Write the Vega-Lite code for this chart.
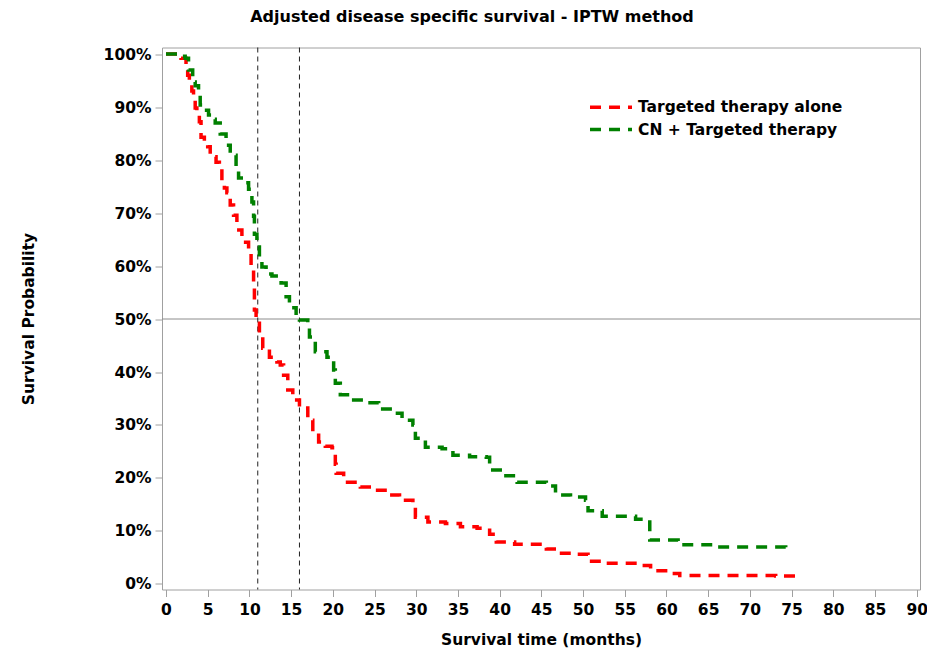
{
  "$schema": "https://vega.github.io/schema/vega-lite/v6.json",
  "width": 758,
  "height": 542,
  "autosize": {"type": "none"},
  "padding": {"left": 162, "top": 47.5, "right": 7, "bottom": 70.5},
  "background": "white",
  "title": {"text": "Adjusted disease specific survival - IPTW method", "font": "DejaVu Sans", "fontSize": 16, "fontWeight": "bold", "color": "black", "anchor": "middle", "dx": -69, "offset": 22},
  "config": {
    "view": {"stroke": "#a0a0a0", "strokeWidth": 1},
    "axis": {"grid": false, "domain": false, "tickSize": 7, "tickColor": "#a0a0a0", "labelFont": "DejaVu Sans", "labelFontSize": 15.5, "labelFontWeight": "bold", "labelColor": "black", "titleFont": "DejaVu Sans", "titleFontSize": 15.5, "titleFontWeight": "bold", "titleColor": "black", "labelOverlap": false, "labelFlush": false}
  },
  "datasets": {
    "curves": [
      {"group": "Targeted therapy alone", "t": 0, "s": 1.0},
      {"group": "Targeted therapy alone", "t": 1.8, "s": 0.992},
      {"group": "Targeted therapy alone", "t": 2.4, "s": 0.974},
      {"group": "Targeted therapy alone", "t": 2.6, "s": 0.96},
      {"group": "Targeted therapy alone", "t": 2.8, "s": 0.947},
      {"group": "Targeted therapy alone", "t": 3.1, "s": 0.93},
      {"group": "Targeted therapy alone", "t": 3.3, "s": 0.919},
      {"group": "Targeted therapy alone", "t": 3.5, "s": 0.898},
      {"group": "Targeted therapy alone", "t": 3.7, "s": 0.885},
      {"group": "Targeted therapy alone", "t": 4.0, "s": 0.872},
      {"group": "Targeted therapy alone", "t": 4.2, "s": 0.843},
      {"group": "Targeted therapy alone", "t": 4.6, "s": 0.834},
      {"group": "Targeted therapy alone", "t": 5.0, "s": 0.825},
      {"group": "Targeted therapy alone", "t": 5.3, "s": 0.815},
      {"group": "Targeted therapy alone", "t": 5.7, "s": 0.806},
      {"group": "Targeted therapy alone", "t": 6.0, "s": 0.796},
      {"group": "Targeted therapy alone", "t": 6.4, "s": 0.785},
      {"group": "Targeted therapy alone", "t": 6.7, "s": 0.758},
      {"group": "Targeted therapy alone", "t": 7.0, "s": 0.747},
      {"group": "Targeted therapy alone", "t": 7.3, "s": 0.738},
      {"group": "Targeted therapy alone", "t": 7.7, "s": 0.715},
      {"group": "Targeted therapy alone", "t": 8.1, "s": 0.696},
      {"group": "Targeted therapy alone", "t": 8.5, "s": 0.668},
      {"group": "Targeted therapy alone", "t": 9.1, "s": 0.645},
      {"group": "Targeted therapy alone", "t": 9.9, "s": 0.625},
      {"group": "Targeted therapy alone", "t": 10.2, "s": 0.6},
      {"group": "Targeted therapy alone", "t": 10.5, "s": 0.564},
      {"group": "Targeted therapy alone", "t": 10.6, "s": 0.517},
      {"group": "Targeted therapy alone", "t": 10.8, "s": 0.492},
      {"group": "Targeted therapy alone", "t": 11.2, "s": 0.47},
      {"group": "Targeted therapy alone", "t": 11.6, "s": 0.445},
      {"group": "Targeted therapy alone", "t": 12.4, "s": 0.428},
      {"group": "Targeted therapy alone", "t": 13.3, "s": 0.419},
      {"group": "Targeted therapy alone", "t": 13.7, "s": 0.413},
      {"group": "Targeted therapy alone", "t": 14.1, "s": 0.394},
      {"group": "Targeted therapy alone", "t": 14.6, "s": 0.366},
      {"group": "Targeted therapy alone", "t": 15.2, "s": 0.347},
      {"group": "Targeted therapy alone", "t": 16.0, "s": 0.332},
      {"group": "Targeted therapy alone", "t": 17.0, "s": 0.309},
      {"group": "Targeted therapy alone", "t": 17.6, "s": 0.287},
      {"group": "Targeted therapy alone", "t": 18.3, "s": 0.268},
      {"group": "Targeted therapy alone", "t": 19.1, "s": 0.26},
      {"group": "Targeted therapy alone", "t": 19.9, "s": 0.257},
      {"group": "Targeted therapy alone", "t": 20.3, "s": 0.226},
      {"group": "Targeted therapy alone", "t": 20.4, "s": 0.209},
      {"group": "Targeted therapy alone", "t": 21.3, "s": 0.192},
      {"group": "Targeted therapy alone", "t": 23.3, "s": 0.183},
      {"group": "Targeted therapy alone", "t": 24.9, "s": 0.177},
      {"group": "Targeted therapy alone", "t": 26.6, "s": 0.168},
      {"group": "Targeted therapy alone", "t": 28.0, "s": 0.158},
      {"group": "Targeted therapy alone", "t": 29.6, "s": 0.149},
      {"group": "Targeted therapy alone", "t": 29.9, "s": 0.126},
      {"group": "Targeted therapy alone", "t": 31.4, "s": 0.117},
      {"group": "Targeted therapy alone", "t": 33.5, "s": 0.114},
      {"group": "Targeted therapy alone", "t": 35.3, "s": 0.108},
      {"group": "Targeted therapy alone", "t": 37.3, "s": 0.105},
      {"group": "Targeted therapy alone", "t": 38.8, "s": 0.094},
      {"group": "Targeted therapy alone", "t": 39.6, "s": 0.079},
      {"group": "Targeted therapy alone", "t": 41.8, "s": 0.075},
      {"group": "Targeted therapy alone", "t": 45.6, "s": 0.066},
      {"group": "Targeted therapy alone", "t": 47.1, "s": 0.058},
      {"group": "Targeted therapy alone", "t": 49.3, "s": 0.056},
      {"group": "Targeted therapy alone", "t": 50.6, "s": 0.043},
      {"group": "Targeted therapy alone", "t": 52.3, "s": 0.039},
      {"group": "Targeted therapy alone", "t": 56.6, "s": 0.035},
      {"group": "Targeted therapy alone", "t": 58.1, "s": 0.025},
      {"group": "Targeted therapy alone", "t": 59.9, "s": 0.02},
      {"group": "Targeted therapy alone", "t": 61.6, "s": 0.016},
      {"group": "Targeted therapy alone", "t": 73.1, "s": 0.015},
      {"group": "Targeted therapy alone", "t": 75.5, "s": 0.015},
      {"group": "CN + Targeted therapy", "t": 0, "s": 1.0},
      {"group": "CN + Targeted therapy", "t": 1.9, "s": 0.996},
      {"group": "CN + Targeted therapy", "t": 2.3, "s": 0.992},
      {"group": "CN + Targeted therapy", "t": 2.7, "s": 0.97},
      {"group": "CN + Targeted therapy", "t": 3.2, "s": 0.947},
      {"group": "CN + Targeted therapy", "t": 3.5, "s": 0.94},
      {"group": "CN + Targeted therapy", "t": 3.9, "s": 0.928},
      {"group": "CN + Targeted therapy", "t": 4.1, "s": 0.904},
      {"group": "CN + Targeted therapy", "t": 4.6, "s": 0.894},
      {"group": "CN + Targeted therapy", "t": 5.1, "s": 0.885},
      {"group": "CN + Targeted therapy", "t": 5.5, "s": 0.877},
      {"group": "CN + Targeted therapy", "t": 5.9, "s": 0.87},
      {"group": "CN + Targeted therapy", "t": 6.5, "s": 0.849},
      {"group": "CN + Targeted therapy", "t": 7.2, "s": 0.828},
      {"group": "CN + Targeted therapy", "t": 7.7, "s": 0.809},
      {"group": "CN + Targeted therapy", "t": 8.4, "s": 0.787},
      {"group": "CN + Targeted therapy", "t": 8.7, "s": 0.766},
      {"group": "CN + Targeted therapy", "t": 9.4, "s": 0.757},
      {"group": "CN + Targeted therapy", "t": 9.9, "s": 0.745},
      {"group": "CN + Targeted therapy", "t": 10.3, "s": 0.721},
      {"group": "CN + Targeted therapy", "t": 10.5, "s": 0.694},
      {"group": "CN + Targeted therapy", "t": 10.6, "s": 0.66},
      {"group": "CN + Targeted therapy", "t": 10.9, "s": 0.636},
      {"group": "CN + Targeted therapy", "t": 11.2, "s": 0.617},
      {"group": "CN + Targeted therapy", "t": 11.5, "s": 0.598},
      {"group": "CN + Targeted therapy", "t": 12.0, "s": 0.585},
      {"group": "CN + Targeted therapy", "t": 12.7, "s": 0.581},
      {"group": "CN + Targeted therapy", "t": 13.8, "s": 0.568},
      {"group": "CN + Targeted therapy", "t": 14.4, "s": 0.542},
      {"group": "CN + Targeted therapy", "t": 14.8, "s": 0.521},
      {"group": "CN + Targeted therapy", "t": 15.6, "s": 0.502},
      {"group": "CN + Targeted therapy", "t": 16.0, "s": 0.498},
      {"group": "CN + Targeted therapy", "t": 17.0, "s": 0.485},
      {"group": "CN + Targeted therapy", "t": 17.2, "s": 0.466},
      {"group": "CN + Targeted therapy", "t": 17.9, "s": 0.438},
      {"group": "CN + Targeted therapy", "t": 19.3, "s": 0.428},
      {"group": "CN + Targeted therapy", "t": 20.1, "s": 0.404},
      {"group": "CN + Targeted therapy", "t": 20.3, "s": 0.379},
      {"group": "CN + Targeted therapy", "t": 20.9, "s": 0.357},
      {"group": "CN + Targeted therapy", "t": 22.5, "s": 0.347},
      {"group": "CN + Targeted therapy", "t": 23.9, "s": 0.342},
      {"group": "CN + Targeted therapy", "t": 25.5, "s": 0.33},
      {"group": "CN + Targeted therapy", "t": 27.3, "s": 0.322},
      {"group": "CN + Targeted therapy", "t": 28.3, "s": 0.309},
      {"group": "CN + Targeted therapy", "t": 29.6, "s": 0.3},
      {"group": "CN + Targeted therapy", "t": 29.9, "s": 0.275},
      {"group": "CN + Targeted therapy", "t": 31.1, "s": 0.258},
      {"group": "CN + Targeted therapy", "t": 33.1, "s": 0.255},
      {"group": "CN + Targeted therapy", "t": 34.4, "s": 0.243},
      {"group": "CN + Targeted therapy", "t": 36.4, "s": 0.24},
      {"group": "CN + Targeted therapy", "t": 38.4, "s": 0.239},
      {"group": "CN + Targeted therapy", "t": 38.8, "s": 0.215},
      {"group": "CN + Targeted therapy", "t": 40.4, "s": 0.204},
      {"group": "CN + Targeted therapy", "t": 42.1, "s": 0.192},
      {"group": "CN + Targeted therapy", "t": 45.6, "s": 0.185},
      {"group": "CN + Targeted therapy", "t": 46.7, "s": 0.168},
      {"group": "CN + Targeted therapy", "t": 48.5, "s": 0.164},
      {"group": "CN + Targeted therapy", "t": 50.3, "s": 0.158},
      {"group": "CN + Targeted therapy", "t": 50.6, "s": 0.138},
      {"group": "CN + Targeted therapy", "t": 52.3, "s": 0.128},
      {"group": "CN + Targeted therapy", "t": 56.3, "s": 0.122},
      {"group": "CN + Targeted therapy", "t": 58.0, "s": 0.083},
      {"group": "CN + Targeted therapy", "t": 61.4, "s": 0.074},
      {"group": "CN + Targeted therapy", "t": 65.6, "s": 0.07},
      {"group": "CN + Targeted therapy", "t": 74.3, "s": 0.067},
      {"group": "CN + Targeted therapy", "t": 74.9, "s": 0.067}
    ],
    "vref": [{"t": 11}, {"t": 16}],
    "href": [{"s": 0.5}]
  },
  "layer": [
    {
      "data": {"name": "href"},
      "mark": {"type": "rule", "color": "#8c8c8c", "strokeWidth": 1},
      "encoding": {"y": {"field": "s", "type": "quantitative"}}
    },
    {
      "data": {"name": "vref"},
      "mark": {"type": "rule", "color": "#202020", "strokeWidth": 1, "strokeDash": [5, 4]},
      "encoding": {"x": {"field": "t", "type": "quantitative"}}
    },
    {
      "data": {"name": "curves"},
      "mark": {"type": "line", "interpolate": "step-after", "strokeWidth": 3.5, "strokeDash": [11, 8]},
      "encoding": {
        "x": {
          "field": "t", "type": "quantitative",
          "scale": {"domain": [-0.48, 90.4], "nice": false, "zero": false},
          "axis": {
            "title": "Survival time (months)",
            "values": [0, 2.5, 5, 7.5, 10, 12.5, 15, 17.5, 20, 22.5, 25, 27.5, 30, 32.5, 35, 37.5, 40, 42.5, 45, 47.5, 50, 52.5, 55, 57.5, 60, 62.5, 65, 67.5, 70, 72.5, 75, 77.5, 80, 82.5, 85, 87.5, 90],
            "labelExpr": "datum.value % 5 == 0 ? format(datum.value, 'd') : ''",
            "labelPadding": 6,
            "titlePadding": 14
          }
        },
        "y": {
          "field": "s", "type": "quantitative",
          "scale": {"domain": [-0.0104, 1.0123], "nice": false, "zero": false},
          "axis": {
            "title": "Survival Probability",
            "values": [0, 0.05, 0.1, 0.15, 0.2, 0.25, 0.3, 0.35, 0.4, 0.45, 0.5, 0.55, 0.6, 0.65, 0.7, 0.75, 0.8, 0.85, 0.9, 0.95, 1],
            "labelExpr": "round(datum.value * 100) % 10 == 0 ? format(datum.value, '.0%') : ''",
            "labelPadding": 4,
            "titlePadding": 67
          }
        },
        "color": {
          "field": "group", "type": "nominal",
          "scale": {"domain": ["Targeted therapy alone", "CN + Targeted therapy"], "range": ["#ff0000", "#008000"]},
          "legend": {
            "title": null,
            "orient": "none",
            "legendX": 438,
            "legendY": 48.7,
            "padding": 0,
            "rowPadding": 2.4,
            "symbolType": "M-2.333,0H2.333",
            "symbolSize": 324,
            "symbolStrokeWidth": 3.5,
            "symbolDash": [11, 8],
            "symbolFillColor": "transparent",
            "labelFont": "DejaVu Sans",
            "labelFontSize": 15.5,
            "labelFontWeight": "bold",
            "labelColor": "black",
            "labelOffset": 16,
            "labelLimit": 400
          }
        }
      }
    }
  ]
}
